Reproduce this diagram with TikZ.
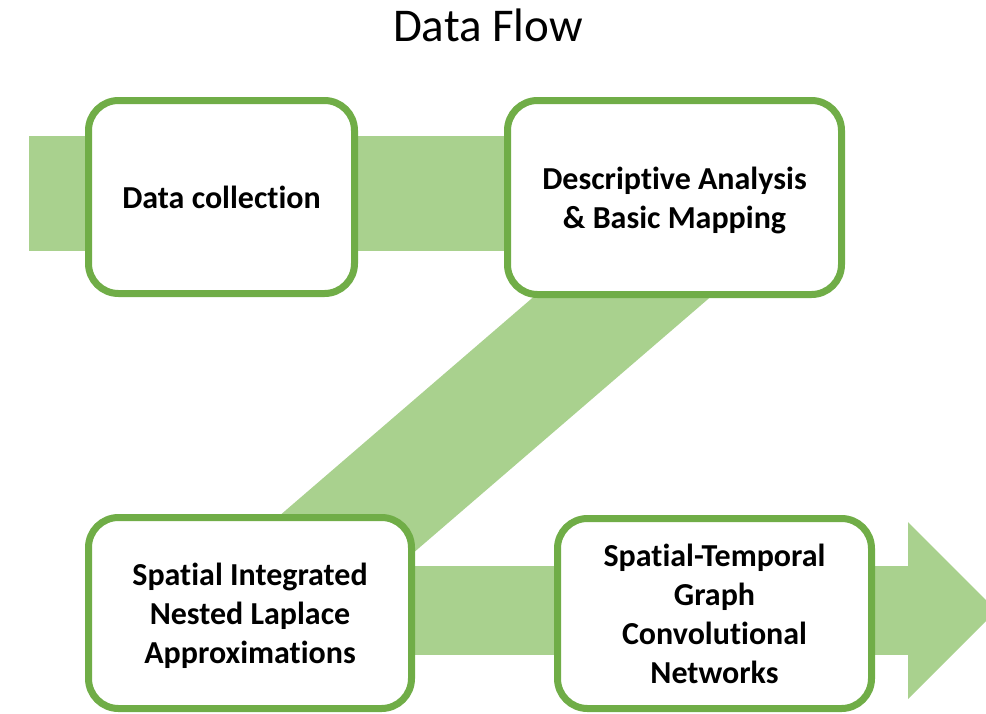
\documentclass[tikz,border=0pt]{standalone}
\usepackage{fontspec}
\setmainfont{Carlito}[RawFeature={-liga;-clig;-calt;-dlig}]
\definecolor{boxgreen}{HTML}{70AD47}
\definecolor{bandgreen}{HTML}{A9D18E}
\begin{document}
\begin{tikzpicture}[x=1pt,y=-1pt,
  stagebox/.style={draw=boxgreen, line width=7pt, fill=white, rounded corners=30pt,
    align=center, inner sep=0pt, text depth=0pt, font=\bfseries\fontsize{32}{39}\selectfont},
  band/.style={fill=bandgreen, draw=none}]
\useasboundingbox (0,0) rectangle (986,713);
\clip (0,0) rectangle (986,713);
% title
\node[anchor=base, font=\fontsize{47}{56}\selectfont, inner sep=0pt] (title) at (488,41.5) {Data Flow};
% bands
\fill[band] (29,136) rectangle (600,251);
\fill[band] (588,250) -- (765,250) -- (347,610) -- (170,610) -- cycle;
\fill[band] (300,566) rectangle (908,655);
\fill[band] (908,522) -- (996.5,610.5) -- (908,699) -- cycle;
% boxes
\node[stagebox, minimum width=266pt, minimum height=193pt] (collect) at (221.5,197) {Data collection};
\node[stagebox, minimum width=334pt, minimum height=194pt] (descr) at (674.5,197.5) {Descriptive Analysis\\\& Basic Mapping};
\node[stagebox, minimum width=323pt, minimum height=191pt] (inla) at (250,613) {Spatial Integrated\\Nested Laplace\\Approximations};
\node[stagebox, minimum width=314pt, minimum height=190pt] (stgcn) at (714.5,613.5) {Spatial-Temporal\\Graph\\Convolutional\\Networks};
\end{tikzpicture}
\end{document}
